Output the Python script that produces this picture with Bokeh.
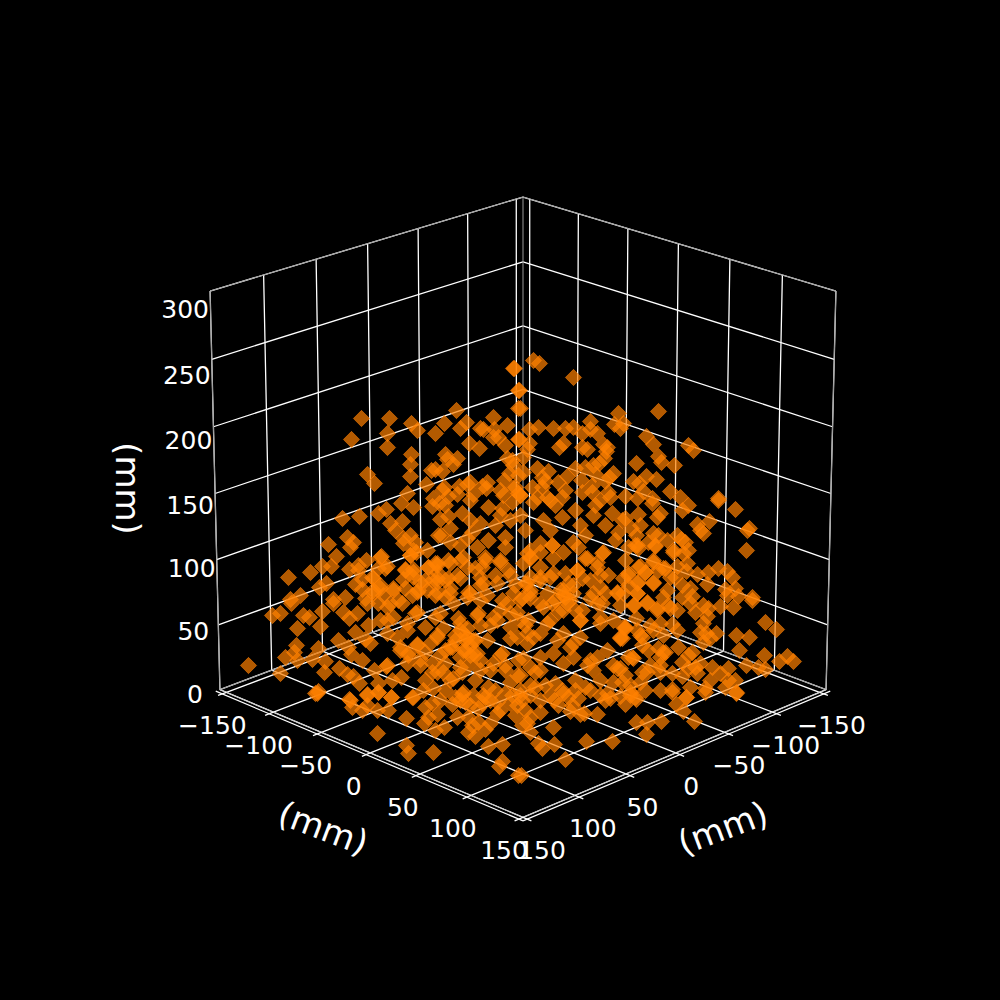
import math
from bokeh.plotting import figure
from bokeh.embed import file_html
from bokeh.resources import INLINE
from bokeh.core.properties import value

# values: projected scatter positions (page pixels)
px = [361,389,351,387,387,411,417,435,444,456,466,460,493,507,480,483,494,493,498,505,469,479,411,410,410,367,374,407,426,431,435,442,445,447,453,457,513,518,518,518,507,512,509,504,518,470,467,487,459,444,442,482,486,473,457,448,503,513,518,433,
514,533,539,573,519,520,658,618,590,623,614,620,538,553,529,565,573,590,582,597,519,529,646,653,688,693,563,559,582,587,603,607,606,658,661,636,674,527,523,575,585,593,599,604,537,548,523,513,613,595,609,646,656,633,639,643,542,545,542,558,567,581,565,532,582,592,592,605,608,515,520,537,547,562,610,625,637,652,670,680,718,
342,359,378,386,401,413,432,439,390,402,395,403,410,415,438,347,353,350,328,336,288,310,322,331,349,358,366,358,381,387,378,405,413,410,416,427,428,437,437,326,319,300,290,355,362,373,362,403,413,420,432,427,380,373,393,405,417,383,345,333,437,365,
440,448,450,462,441,450,472,480,488,502,512,510,520,533,543,555,562,580,595,593,612,622,618,488,505,467,477,463,485,500,530,540,552,573,585,602,577,597,450,435,467,482,530,540,448,460,437,510,530,553,568,590,608,480,497,513,450,468,547,573,593,617,435,487,530,563,605,623,505,
625,638,657,660,652,682,688,718,735,697,700,703,709,747,749,746,631,636,653,658,648,655,667,677,681,685,628,635,638,673,683,688,653,625,665,658,640,645,677,687,686,697,708,718,727,732,628,638,653,675,682,690,707,725,735,667,637,628,663,682,692,727,738,752,623,
248,272,280,291,303,309,322,297,320,296,294,318,285,297,312,325,280,318,315,324,339,347,338,348,351,362,353,359,374,349,333,343,349,357,367,355,368,365,370,387,387,402,415,407,397,417,425,400,408,407,420,432,386,401,392,378,378,367,391,412,425,423,432,387,
478,460,467,450,437,440,493,510,533,547,580,597,620,623,573,557,510,500,477,463,523,540,573,593,617,585,613,517,480,443,437,470,510,453,488,463,535,562,505,455,473,485,550,568,433,600,563,543,517,507,453,582,607,530,555,
634,647,657,668,677,690,695,703,708,720,733,752,707,703,765,776,736,749,739,764,779,787,793,746,758,765,716,706,700,703,710,660,672,677,650,636,637,625,640,663,622,678,642,658,665,648,692,688,660,682,633,628,660,700,695,688,672,682,697,712,720,710,728,728,735,725,660,642,647,640,672,690,705,736,686,630,635,622,620,
317,350,352,362,367,377,388,391,367,378,406,377,406,408,433,424,437,428,413,425,432,452,465,462,457,435,444,468,472,468,475,485,490,478,497,482,497,510,517,502,488,502,499,518,
521,565,542,538,554,586,612,530,553,527,530,540,525,522,520,540,554,563,578,572,570,580,584,597,605,610,625,630,636,620,636,647,661,646,694,676,683,686,672,705,736,
465,470,455,565,570,560,480,520,530,540,470,465,495,490,520,460,475,445,500,515,525,555,575,590,505,480,
380,385,372,403,410,413,405,413,437,428,437,425,448,457,450,470,485,500,495,508,480,483,380,393,390,378,373,412,418,417,435,445,467,477,458,467,465,452,443,425,407,437,430,417,408,400,387,460,473,487,497,510,502,522,520,527,525,517,527,490,502,493,480,460,445,420,518,380,393,398,440,455,473,445,460,475,
530,540,552,553,563,578,587,603,597,577,582,600,637,655,673,653,638,663,645,628,637,653,617,637,647,657,670,670,633,620,600,590,602,563,567,558,540,527,530,540,552,580,600,613,625,642,620,653,663,607,597,580,563,570,553,540,528,527,540,563,632,613,587,530,550,573,565,550,523,
450,462,475,490,505,520,535,445,470,483,500,512,530,545,575,590,600,625,460,440,478,515,522,558,575,600,630,650,645,660,
445,470,520,500,550,575,600,615,640,470,495,525,550,585,605,460,500]
py = [418,418,439,433,447,423,430,433,423,410,422,428,417,425,428,429,429,437,437,445,443,448,454,464,476,474,483,493,484,470,469,471,454,459,464,458,368,390,408,439,458,460,473,480,475,482,484,482,486,487,490,486,488,494,494,496,495,488,493,498,
368,360,363,377,390,408,411,413,421,423,424,428,427,428,429,428,427,429,433,433,439,443,436,444,445,450,443,447,447,449,444,447,451,456,462,463,465,449,457,468,467,465,463,458,468,471,472,465,473,474,477,476,479,481,483,491,477,481,487,482,476,480,490,487,492,485,492,481,492,487,495,497,497,497,497,496,498,498,491,497,498,
518,516,513,509,503,507,506,503,523,521,530,538,535,542,535,537,542,547,544,556,577,572,566,566,569,565,560,570,556,566,568,569,569,555,552,550,567,565,572,583,587,595,599,584,579,578,589,579,577,582,580,590,588,593,588,588,592,595,597,599,592,598,
519,516,528,513,535,542,532,523,507,508,502,520,515,502,520,505,517,525,505,515,513,520,532,540,537,538,547,557,557,560,550,543,545,542,558,553,570,567,563,563,567,567,558,567,578,578,578,575,577,573,583,580,575,585,583,593,593,592,593,593,593,593,595,595,593,595,593,578,547,
518,514,517,513,503,510,505,500,509,524,530,533,521,530,528,550,528,535,533,535,542,546,540,535,539,542,547,545,548,552,553,550,560,560,568,570,566,572,566,563,571,574,572,568,571,577,575,582,583,577,585,588,584,589,588,590,593,585,597,597,596,595,596,597,593,
665,615,613,603,615,617,611,628,626,645,652,648,657,660,659,661,673,691,693,672,668,674,640,647,654,660,676,683,670,699,603,612,618,613,603,632,625,639,643,607,620,603,613,630,637,644,652,650,653,663,659,663,666,677,680,683,692,695,697,697,680,690,672,633,
613,623,637,647,635,613,617,627,637,623,620,603,637,627,643,640,638,655,653,650,658,670,657,670,668,687,682,675,670,672,672,663,682,678,687,692,687,690,693,697,695,697,695,697,688,617,610,607,612,603,603,610,693,695,683,
605,603,610,605,610,603,612,605,608,606,607,600,616,623,622,629,635,637,650,655,661,656,661,665,667,669,633,633,632,642,638,623,624,630,625,618,630,628,635,635,638,647,645,648,652,650,652,655,657,662,658,657,665,663,667,668,673,676,673,667,673,680,668,680,680,687,672,672,672,682,689,687,688,692,697,692,697,682,668,
693,700,707,710,705,710,710,697,694,692,718,733,745,753,752,723,714,717,697,707,703,704,702,694,717,730,727,717,725,732,736,729,723,722,713,703,702,703,705,744,746,761,766,775,
775,759,748,743,744,741,741,732,727,723,717,712,710,700,695,700,700,693,698,705,711,714,713,714,700,698,704,695,699,696,722,722,721,734,721,704,711,697,692,692,693,
635,645,640,597,600,590,625,600,590,580,655,650,690,700,690,630,640,650,610,585,625,600,610,660,670,600,
557,568,577,543,555,550,570,572,563,567,582,580,560,575,588,593,560,562,575,570,577,583,585,590,603,603,590,595,590,612,617,597,597,615,618,628,640,647,628,627,623,637,643,645,655,647,665,657,653,640,620,613,600,598,620,553,583,637,633,625,653,663,660,667,663,665,660,620,617,600,655,635,640,580,560,568,
557,552,545,558,552,547,558,552,562,570,578,575,545,545,550,562,567,568,572,573,583,582,592,593,602,608,577,608,605,605,587,598,603,590,603,612,577,583,598,603,603,620,623,620,627,637,638,630,652,650,657,637,633,647,653,633,620,643,657,663,657,665,665,667,620,585,573,577,563,
680,672,680,670,665,675,672,690,705,695,710,695,685,685,680,690,680,675,700,700,708,715,725,705,690,695,685,665,690,690,
505,500,495,490,500,510,500,540,525,520,525,530,530,535,525,545,515]
tick_xy = [-150,-100,-50,0,50,100,150]
tick_z = [0,50,100,150,200,250,300]
label_xy = ["\u2212150","\u2212100","\u221250","0","50","100","150"]
label_z = ["0","50","100","150","200","250","300"]
axis_label = "(mm)"

# view of the box (a runs to the lower left axis, b to the lower right axis)
LO, HI = -157.0, 150.0
ZLO, ZHI = 0.0, 300.0
ELEV = math.radians(21.0)
D, S, CX, CY, ZS = 22.0, 4790.0, 522.5, 493.0, 0.98

def proj(a, b, z):
    ca, hf = (LO + HI) / 2, (HI - LO) / 2
    zc, zh = (ZLO + ZHI) / 2, (ZHI - ZLO) / 2
    na, nb, nz = (a - ca) / hf, (b - ca) / hf, ZS * (z - zc) / zh
    xv = (na - nb) / math.sqrt(2)
    d = (na + nb) / math.sqrt(2)
    yv = nz * math.cos(ELEV) - d * math.sin(ELEV)
    w = D - (d * math.cos(ELEV) + nz * math.sin(ELEV))
    return CX + S * xv / w, CY - S * yv / w

p = figure(width=984, height=984, x_range=(0, 984), y_range=(984, 0),
           output_backend="svg", toolbar_location=None,
           background_fill_color="black", border_fill_color="black",
           min_border=0, outline_line_color=None)
p.axis.visible = False
p.grid.visible = False

def seg(pts, color="white", w=1.3):
    xs, ys = zip(*[proj(*q) for q in pts])
    p.line(list(xs), list(ys), line_color=color, line_width=w)

# grid lines
for t in tick_xy:
    seg([(t, LO, ZHI), (t, LO, ZLO), (t, HI, ZLO)])
    seg([(LO, t, ZHI), (LO, t, ZLO), (HI, t, ZLO)])
for t in tick_z:
    seg([(LO, HI, t), (LO, LO, t), (HI, LO, t)])

# pane edges
EDGE = "#9a9a9a"
seg([(LO, HI, ZHI), (LO, LO, ZHI), (HI, LO, ZHI)], EDGE, 1.0)
seg([(LO, HI, ZHI), (LO, HI, ZLO)], EDGE, 1.0)
seg([(HI, LO, ZHI), (HI, LO, ZLO)], EDGE, 1.0)
seg([(LO, LO, ZHI), (LO, LO, ZLO)], EDGE, 1.0)
seg([(LO, HI, ZLO), (LO, LO, ZLO), (HI, LO, ZLO)], EDGE, 1.0)

# outer axis lines and ticks
OFF = 4.0
seg([(LO, HI + OFF, ZLO), (HI + OFF, HI + OFF, ZLO)], "white", 1.2)
seg([(HI + OFF, LO, ZLO), (HI + OFF, HI + OFF, ZLO)], "white", 1.2)
seg([(LO, HI, ZLO), (HI, HI, ZLO), (HI, LO, ZLO)], "#c8c8c8", 1.0)
for t in tick_xy:
    seg([(t, HI, ZLO), (t, HI + 2 * OFF, ZLO)])
    seg([(HI, t, ZLO), (HI + 2 * OFF, t, ZLO)])

# scatter
p.scatter(px, py, marker="square", angle=math.pi / 4, size=11.5, fill_color="#ff8000", fill_alpha=0.7,
          line_color="#ff8000", line_alpha=0.5, line_width=1)

# tick labels
font = value("DejaVu Sans")
tx, ty = [], []
for t in tick_xy:
    x, y = proj(t, HI, ZLO)
    tx.append(x - 14 - 5 * (t + 150) / 300); ty.append(y + 33)
p.text(tx, ty, text=label_xy, text_font=font, text_font_size="25px", text_color="white",
       text_align="center", text_baseline="middle")
tx, ty = [], []
for t in tick_xy:
    x, y = proj(HI, t, ZLO)
    tx.append(x + 12 + 7 * (t + 150) / 300); ty.append(y + 33)
p.text(tx, ty, text=label_xy, text_font=font, text_font_size="25px", text_color="white",
       text_align="center", text_baseline="middle")
tx, ty = [], []
for t in tick_z:
    x, y = proj(LO, HI, t)
    tx.append(x - 25); ty.append(y + 4 + 14 * t / 300)
p.text(tx, ty, text=label_z, text_font=font, text_font_size="25px", text_color="white",
       text_align="center", text_baseline="middle")

# axis titles
for q, ang, dx, dy in [((0, HI, ZLO), -0.36, -47, 75),
                       ((HI, 0, ZLO), 0.36, 47, 75),
                       ((LO, HI, 150), -math.pi / 2, -87, -5)]:
    x, y = proj(*q)
    p.text([x + dx], [y + dy], text=[axis_label], angle=[ang], text_font=font,
           text_font_size="34px", text_color="white", text_align="center",
           text_baseline="middle")

html = file_html(p, INLINE)
html = html.replace("<head>", "<head><style>html,body{background:#000}</style>", 1)
open("out.html", "w").write(html)
